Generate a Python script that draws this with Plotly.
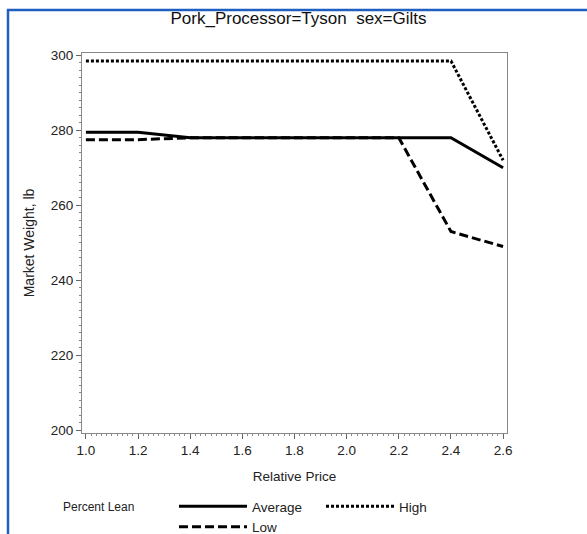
import plotly.graph_objects as go

price = [1.0, 1.2, 1.4, 1.6, 1.8, 2.0, 2.2, 2.4, 2.6]
average = [279.5, 279.5, 278, 278, 278, 278, 278, 278, 270]
high = [298.5, 298.5, 298.5, 298.5, 298.5, 298.5, 298.5, 298.5, 272]
low = [277.5, 277.5, 278, 278, 278, 278, 278, 253, 249]

W, H = 587, 534
L, R, T, B = 82, 80, 53, 101
pw, ph = W - L - R, H - T - B

fig = go.Figure()
fig.add_trace(go.Scatter(x=price, y=average, mode="lines", name="Average",
                         line=dict(color="black", width=3, dash="solid")))
fig.add_trace(go.Scatter(x=price, y=high, mode="lines", name="High",
                         line=dict(color="black", width=3, dash="3px,2px")))
fig.add_trace(go.Scatter(x=price, y=low, mode="lines", name="Low",
                         line=dict(color="black", width=3, dash="9px,4px")))

font = "Liberation Sans, Arial, sans-serif"
fig.update_layout(
    width=W, height=H,
    margin=dict(l=L, r=R, t=T, b=B, autoexpand=False),
    paper_bgcolor="white", plot_bgcolor="white",
    font=dict(family=font, size=12, color="#222"),
    title=dict(text="Pork_Processor=Tyson  sex=Gilts", x=(L + pw / 2 + 4) / W, xanchor="center",
               y=1 - 18 / H, yanchor="middle", font=dict(size=17, color="#111")),
    showlegend=True,
    legend=dict(orientation="h", xref="container", yref="container",
                x=174 / W, xanchor="left", y=1 - 491 / H, yanchor="top",
                entrywidth=64, entrywidthmode="pixels", itemwidth=68,
                font=dict(size=13.5), tracegroupgap=0),
    xaxis=dict(range=[0.985, 2.615], tickvals=[1.0, 1.2, 1.4, 1.6, 1.8, 2.0, 2.2, 2.4, 2.6],
               ticktext=["1.0", "1.2", "1.4", "1.6", "1.8", "2.0", "2.2", "2.4", "2.6"],
               tickfont=dict(size=13.5),
               ticks="outside", ticklen=5, tickcolor="#666", showgrid=False, zeroline=False,
               showline=True, linecolor="#888", linewidth=1, mirror=True,
               minor=dict(dtick=0.02, tick0=1.0, ticks="outside", ticklen=2, tickcolor="#888"),
               title=dict(text="Relative Price", standoff=14, font=dict(size=13.5))),
    yaxis=dict(range=[199.3, 300.6], tickvals=[200, 220, 240, 260, 280, 300],
               tickfont=dict(size=13.5),
               ticks="outside", ticklen=5, tickcolor="#666", showgrid=False, zeroline=False,
               showline=True, linecolor="#888", linewidth=1, mirror=True,
               minor=dict(dtick=2, tick0=200, ticks="outside", ticklen=2, tickcolor="#888"),
               title=dict(text="Market Weight, lb", standoff=12, font=dict(size=14))),
)

# legend heading
fig.add_annotation(text="Percent Lean", xref="paper", yref="paper",
                   x=(61 - L) / pw, xanchor="left", y=-(507 - T - ph) / ph, yanchor="middle",
                   showarrow=False, font=dict(size=12, color="#222"))

# blue frame of the original image (left and top edges)
fig.add_shape(type="path", xref="paper", yref="paper",
              path=f"M {(8 - L) / pw} {-(H + 5 - T - ph) / ph} L {(8 - L) / pw} {(T + ph - 10) / ph} L {(W + 5 - L) / pw} {(T + ph - 10) / ph}",
              line=dict(color="#1f5fbf", width=2.5))

fig.write_html("out.html")
